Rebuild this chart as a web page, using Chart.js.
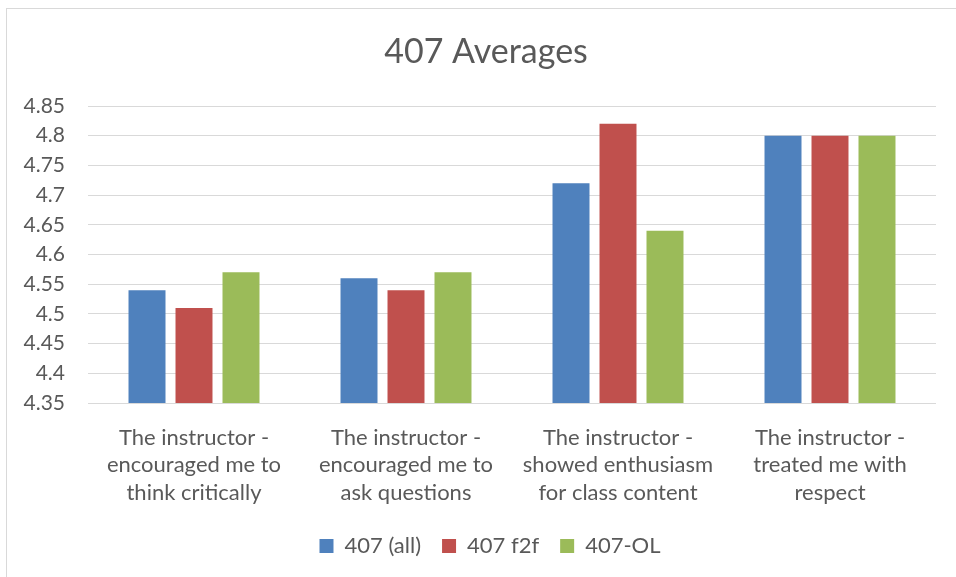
<!DOCTYPE html>
<html>
<head>
<meta charset="utf-8">
<script src="https://cdn.jsdelivr.net/npm/chart.js@4"></script>
<style>
  html, body { margin: 0; padding: 0; background: #fff; overflow: hidden; }
  #wrap { position: relative; width: 956px; height: 577px; }
  #frame { position: absolute; left: 6px; top: 8px; width: 960px; height: 580px; border: 1px solid #d9d9d9; box-sizing: border-box; pointer-events: none; }
</style>
</head>
<body>
<div id="wrap">
  <canvas id="chart" width="956" height="577"></canvas>
  <div id="frame"></div>
</div>
<script>
var categories = [
    ['The instructor -', 'encouraged me to', 'think critically'],
    ['The instructor -', 'encouraged me to', 'ask questions'],
    ['The instructor -', 'showed enthusiasm', 'for class content'],
    ['The instructor -', 'treated me with', 'respect']
];
var seriesNames = ['407 (all)', '407 f2f', '407-OL'];
var allValues = [4.54, 4.56, 4.72, 4.8];
var f2fValues = [4.51, 4.54, 4.82, 4.8];
var olValues = [4.57, 4.57, 4.64, 4.8];

var COLORS = ['#4F81BD', '#C0504D', '#9BBB59'];
var FONT = 'Lato, "Open Sans", sans-serif';
var TEXT = '#595959';

var datasets = [allValues, f2fValues, olValues].map(function (vals, i) {
    return {
        label: seriesNames[i],
        data: vals,
        backgroundColor: COLORS[i],
        borderWidth: 0,
        categoryPercentage: 0.665,
        barPercentage: 0.787
    };
});

// Excel centres title and legend on the whole frame, not on the plot box;
// nudge the two blocks sideways after layout.
var shiftBlocks = {
    id: 'shiftBlocks',
    afterLayout: function (chart) {
        if (chart.titleBlock) { chart.titleBlock.left += 18; chart.titleBlock.right += 18; }
        if (chart.legend) { chart.legend.left += 22; chart.legend.right += 22; }
    }
};

new Chart(document.getElementById('chart'), {
    type: 'bar',
    data: { labels: categories, datasets: datasets },
    plugins: [shiftBlocks],
    options: {
        responsive: false,
        animation: false,
        layout: { padding: { left: 0, right: 20, top: 0, bottom: 10 } },
        plugins: {
            title: {
                display: true,
                text: '407 Averages',
                color: TEXT,
                font: { family: FONT, size: 34, weight: 'normal' },
                padding: { top: 31.6, bottom: 33.6 }
            },
            legend: {
                position: 'bottom',
                labels: {
                    color: TEXT,
                    font: { family: FONT, size: 22 },
                    boxWidth: 14,
                    boxHeight: 14,
                    padding: 21
                }
            },
            tooltip: { enabled: false }
        },
        scales: {
            x: {
                afterFit: function (scale) { scale.height = 111; },
                grid: { display: false, drawTicks: false },
                border: { display: false },
                ticks: {
                    color: TEXT,
                    font: { family: FONT, size: 22, lineHeight: 1.25 },
                    padding: 21,
                    maxRotation: 0,
                    autoSkip: false
                }
            },
            y: {
                min: 4.35,
                max: 4.85,
                afterFit: function (scale) { scale.width = 88; },
                grid: { color: '#d9d9d9', lineWidth: 1, drawTicks: false },
                border: { display: false },
                ticks: {
                    stepSize: 0.05,
                    color: TEXT,
                    font: { family: FONT, size: 21 },
                    padding: 23,
                    callback: function (v) { return String(Number(v.toFixed(2))); }
                }
            }
        }
    }
});
</script>
</body>
</html>
